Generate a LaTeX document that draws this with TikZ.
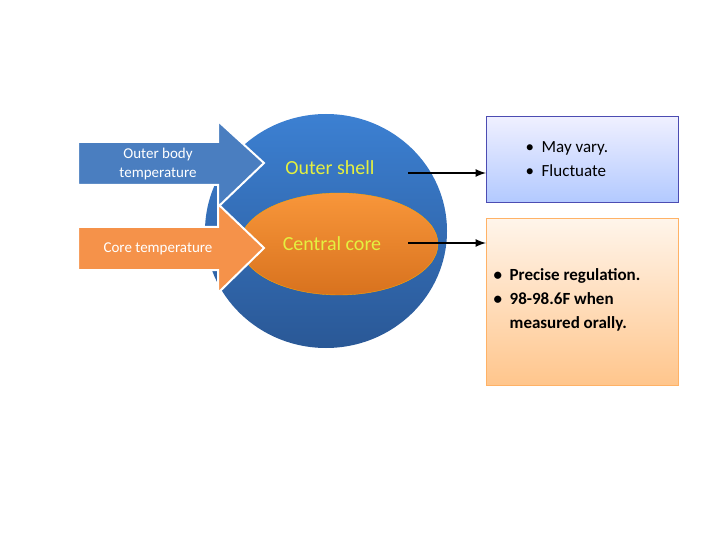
\documentclass[tikz,border=0pt]{standalone}
\usepackage{fontspec}
\setmainfont{Carlito}
\definecolor{ballT}{HTML}{3C80D2}
\definecolor{ballB}{HTML}{2A5896}
\definecolor{coreT}{HTML}{F8963A}
\definecolor{coreB}{HTML}{D8721E}
\definecolor{arrB}{HTML}{4A7EC0}
\definecolor{arrO}{HTML}{F5924A}
\definecolor{txtY}{HTML}{E4F040}
\begin{document}
\begin{tikzpicture}[x=1pt,y=-1pt,
  lab/.style={font=\fontsize{15}{19}\selectfont,text=white,align=center},
  big/.style={font=\fontsize{20}{24}\selectfont,text=txtY},
  con/.style={line width=2.5pt,-latex},
  box/.style={font=\fontsize{17}{24}\selectfont,align=left}]
\useasboundingbox (0,0) rectangle (720,540);
\shade[top color=ballT, bottom color=ballB, draw=none]
  (326,231) circle[x radius=121,y radius=117];
\shade[top color=coreT, bottom color=coreB, draw=orange!70!yellow]
  (339,244) ellipse[x radius=99,y radius=51];
% left arrows
\fill[arrB, draw=white, line width=2pt]
  (78,142)--(218,142)--(218,121)--(264,163)--(218,207)--(218,185)--(78,185)--cycle;
\fill[arrO, draw=white, line width=2pt]
  (78,227)--(218,227)--(218,204)--(264,248)--(218,293)--(218,270)--(78,270)--cycle;
\node[lab] (ob) at (158,164) {Outer body\\temperature};
\node[lab] (ct) at (158,249) {Core temperature};
\node[big] (os) at (330,168) {Outer shell};
\node[big] (cc) at (332,244) {Central core};
% right boxes
\node[draw=blue!40!gray,top color=blue!6,bottom color=cyan!30!blue!30,minimum width=192pt,minimum height=86pt,inner sep=0pt,anchor=north west] (b1) at (486,116) {};
\node[draw=orange!60,top color=orange!8,bottom color=orange!45,minimum width=192pt,minimum height=167pt,inner sep=0pt,anchor=north west] (b2) at (486,218) {};
\node[box,anchor=west] (t1) at (522,159) {\textbullet\ \ May vary.\\\textbullet\ \ Fluctuate};
\node[box,font=\fontsize{17}{24}\selectfont\bfseries,anchor=north west] (t2) at (490,265) {\textbullet\ \ Precise regulation.\\\textbullet\ \ 98-98.6F when\\\phantom{\textbullet\ \ }measured orally.};
\coordinate (a1) at (408,173);
\coordinate (a2) at (408,243);
\draw[con] (a1) -- (b1.west |- a1);
\draw[con] (a2) -- (b2.west |- a2);
\end{tikzpicture}
\end{document}
